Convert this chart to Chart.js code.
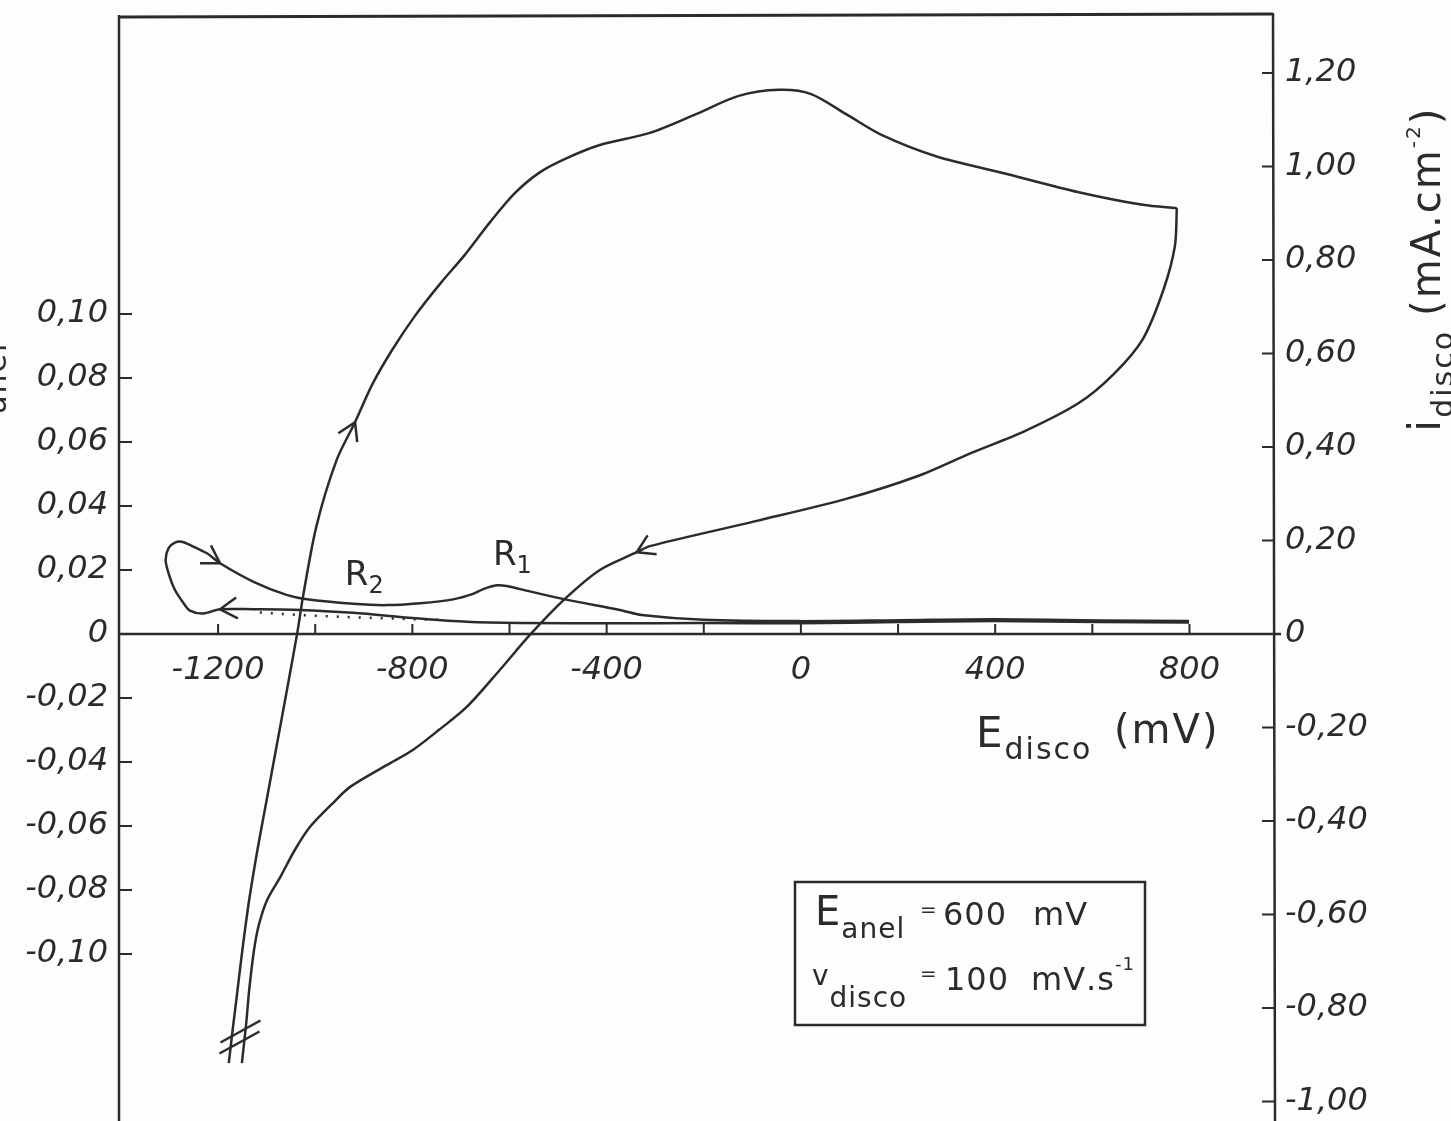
<!DOCTYPE html>
<html>
<head>
<meta charset="utf-8">
<script src="https://cdn.jsdelivr.net/npm/chart.js@4.4.1/dist/chart.umd.min.js"></script>
<style>
  html, body { margin: 0; padding: 0; background: #fdfdfd; }
  canvas { display: block; }
</style>
</head>
<body>
<canvas id="cv" width="1451" height="1121"></canvas>
<script>
// disk current, forward (anodic) sweep: E (mV), i (mA.cm-2)
var diskFwdE = [-1178, -1170, -1160, -1150, -1136, -1119, -1100, -1081, -1062, -1037, -1025, -997, -956, -918, -883, -842, -795, -743, -692, -640, -589, -537, -482, -414, -311, -216, -128, -45, 21, 93, 167, 278, 424, 572, 704, 774];
var diskFwdI = [-0.918, -0.847, -0.762, -0.676, -0.569, -0.462, -0.355, -0.248, -0.141, 0.002, 0.081, 0.233, 0.372, 0.453, 0.533, 0.607, 0.680, 0.749, 0.811, 0.881, 0.943, 0.988, 1.018, 1.046, 1.072, 1.112, 1.151, 1.164, 1.155, 1.112, 1.067, 1.022, 0.984, 0.945, 0.918, 0.911];

// disk current, reverse (cathodic) sweep
var diskRevE = [774, 770, 747, 704, 644, 572, 461, 350, 241, 93, -91, -311, -338, -414, -486, -558, -620, -688, -745, -799, -852, -928, -963, -1011, -1042, -1072, -1099, -1116, -1126, -1136, -1142, -1151];
var diskRevI = [0.911, 0.830, 0.738, 0.631, 0.556, 0.494, 0.434, 0.387, 0.338, 0.289, 0.242, 0.188, 0.175, 0.137, 0.075, -0.002, -0.077, -0.156, -0.205, -0.248, -0.280, -0.327, -0.361, -0.413, -0.462, -0.520, -0.569, -0.622, -0.676, -0.762, -0.832, -0.918];

// ring current (mA.cm-2): cathodic branch leftwards, loop, anodic branch rightwards
var ringE = [799, 615, 397, 204, -2, -208, -373, -578, -688, -799, -922, -1031, -1128, -1196, -1231, -1258, -1271, -1289, -1302, -1308, -1302, -1289, -1275, -1258, -1223, -1196, -1127, -1059, -1017, -922, -853, -784, -716, -675, -654, -626, -606, -578, -486, -373, -328, -200, -4, 204, 397, 615, 799];
var ringI = [0.0036, 0.0037, 0.0040, 0.0037, 0.0033, 0.0034, 0.0033, 0.0034, 0.0038, 0.0050, 0.0066, 0.0075, 0.0077, 0.0077, 0.0064, 0.0073, 0.0096, 0.0138, 0.0190, 0.0231, 0.0268, 0.0285, 0.0288, 0.0278, 0.0252, 0.0221, 0.0163, 0.0122, 0.0108, 0.0094, 0.0090, 0.0096, 0.0108, 0.0125, 0.0140, 0.0152, 0.0150, 0.0140, 0.0108, 0.0075, 0.0059, 0.0044, 0.0040, 0.0043, 0.0046, 0.0042, 0.0040];

// dotted baseline under the ring cathodic branch
var dotE = [-1114, -1031, -922, -799, -743];
var dotI = [0.0067, 0.0059, 0.0052, 0.0046, 0.0044];

// ticks
var xLabelTicks = [-1200, -800, -400, 0, 400, 800];
var xMinorTicks = [-1200, -1000, -800, -600, -400, -200, 0, 200, 400, 600, 800];
var ringTicks = [-0.10, -0.08, -0.06, -0.04, -0.02, 0, 0.02, 0.04, 0.06, 0.08, 0.10];
var diskTicks = [-1.00, -0.80, -0.60, -0.40, -0.20, 0, 0.20, 0.40, 0.60, 0.80, 1.00, 1.20];

// [dataset, point] where a direction arrow sits
var arrowAt = [[0, 13], [1, 12], [2, 13], [2, 25]];

var ink = '#2b2b2b';
var fam = '"DejaVu Sans", sans-serif';

function pts(xs, ys) {
  return xs.map(function (x, i) { return { x: x, y: ys[i] }; });
}

function commaNum(v) {
  if (Math.abs(v) < 1e-9) return '0';
  return v.toFixed(2).replace('.', ',');
}

// draws a row of text pieces: [text, size, dy]
function textRun(ctx, x, y, parts) {
  parts.forEach(function (p) {
    ctx.font = p[1] + 'px ' + fam;
    ctx.fillText(p[0], x, y + (p[2] || 0));
    x += ctx.measureText(p[0]).width;
  });
  return x;
}

var framePlugin = {
  id: 'frame',
  beforeDatasetsDraw: function (chart) {
    var ctx = chart.ctx, a = chart.chartArea, s = chart.scales;
    var y0 = s.yD.getPixelForValue(0);
    ctx.save();
    ctx.strokeStyle = ink;
    ctx.lineWidth = 3;
    ctx.beginPath();
    ctx.moveTo(a.left, a.top + 2);
    ctx.lineTo(a.right, a.top - 1);
    ctx.stroke();
    ctx.lineWidth = 2.5;
    ctx.beginPath();
    ctx.moveTo(a.left, a.top);
    ctx.lineTo(a.left, a.bottom);
    ctx.moveTo(a.right, a.top - 2);
    ctx.lineTo(a.right + 2, a.bottom);
    // zero line doubles as the potential axis
    ctx.moveTo(a.left, y0);
    ctx.lineTo(a.right + 8, y0);
    ctx.stroke();
    ctx.lineWidth = 2;
    ctx.beginPath();
    xMinorTicks.forEach(function (v) {
      var px = s.x.getPixelForValue(v);
      ctx.moveTo(px, y0);
      ctx.lineTo(px, y0 - 10);
    });
    ringTicks.forEach(function (v) {
      if (v === 0) return;
      var py = s.yA.getPixelForValue(v);
      ctx.moveTo(a.left, py);
      ctx.lineTo(a.left + 13, py);
    });
    diskTicks.forEach(function (v) {
      if (v === 0) return;
      var py = s.yD.getPixelForValue(v);
      ctx.moveTo(a.right - 11, py);
      ctx.lineTo(a.right + 1, py);
    });
    ctx.stroke();
    ctx.restore();
  }
};

var arrowPlugin = {
  id: 'arrows',
  afterDatasetsDraw: function (chart) {
    var ctx = chart.ctx;
    ctx.save();
    ctx.strokeStyle = ink;
    ctx.lineWidth = 2.5;
    arrowAt.forEach(function (ai) {
      var d = chart.getDatasetMeta(ai[0]).data;
      var p = d[ai[1]], pa = d[ai[1] - 1], pb = d[ai[1] + 1];
      var ang = Math.atan2(pb.y - pa.y, pb.x - pa.x);
      var L = 20, sp = 0.55;
      ctx.beginPath();
      ctx.moveTo(p.x - L * Math.cos(ang - sp), p.y - L * Math.sin(ang - sp));
      ctx.lineTo(p.x, p.y);
      ctx.lineTo(p.x - L * Math.cos(ang + sp), p.y - L * Math.sin(ang + sp));
      ctx.stroke();
    });

    // break marks across the two cathodic tails
    var f = chart.getDatasetMeta(0).data[1];
    var r = chart.getDatasetMeta(1).data;
    r = r[r.length - 2];
    var mx = (f.x + r.x) / 2, my = (f.y + r.y) / 2;
    var dx = 20, dy = -11;
    ctx.beginPath();
    [[1, 5], [0, 16]].forEach(function (o) {
      ctx.moveTo(mx + o[0] - dx, my + o[1] - dy);
      ctx.lineTo(mx + o[0] + dx, my + o[1] + dy);
    });
    ctx.stroke();
    ctx.restore();
  }
};

var labelPlugin = {
  id: 'labels',
  afterDraw: function (chart) {
    var ctx = chart.ctx, a = chart.chartArea, s = chart.scales;
    var y0 = s.yD.getPixelForValue(0);
    ctx.save();
    ctx.fillStyle = ink;
    ctx.textBaseline = 'alphabetic';
    ctx.textAlign = 'left';

    // peak names
    textRun(ctx, s.x.getPixelForValue(-939), s.yA.getPixelForValue(0.0153), [['R', 34], ['2', 24, 8]]);
    textRun(ctx, s.x.getPixelForValue(-634), s.yA.getPixelForValue(0.0216), [['R', 34], ['1', 24, 8]]);

    // potential axis title
    ctx.letterSpacing = '2px';
    textRun(ctx, a.left + 857, y0 + 113, [['E', 42], ['disco', 30, 12]]);
    ctx.font = '40px ' + fam;
    ctx.fillText('(mV)', a.left + 995, y0 + 109);

    // disk current title, rotated
    ctx.save();
    ctx.translate(a.right + 167, a.top + 417);
    ctx.rotate(-Math.PI / 2);
    var x = textRun(ctx, 0, 0, [['i', 44], ['disco', 30, 13]]);
    textRun(ctx, x + 14, 0, [['(', 40], ['mA', 40], ['.', 40], ['cm', 40], ['-2', 20, -20], [')', 40]]);
    ctx.restore();

    // ring current title, mostly beyond the left edge
    ctx.save();
    ctx.translate(-6, 428);
    ctx.rotate(-Math.PI / 2);
    textRun(ctx, 0, 0, [['i', 44], ['anel', 30, 12]]);
    ctx.restore();
    ctx.letterSpacing = '0px';

    // conditions box
    var bx = a.left + 676, by = a.top + 867;
    ctx.strokeStyle = ink;
    ctx.lineWidth = 2.5;
    ctx.strokeRect(bx, by, 350, 143);
    ctx.letterSpacing = '1px';
    textRun(ctx, bx + 20, by + 43, [['E', 40], ['anel', 28, 13]]);
    textRun(ctx, bx + 125, by + 34, [['=', 20]]);
    textRun(ctx, bx + 148, by + 43, [['600', 32]]);
    textRun(ctx, bx + 238, by + 43, [['mV', 32]]);
    textRun(ctx, bx + 17, by + 103, [['v', 28], ['disco', 28, 22]]);
    textRun(ctx, bx + 125, by + 98, [['=', 20]]);
    textRun(ctx, bx + 150, by + 108, [['100', 32]]);
    textRun(ctx, bx + 236, by + 108, [['mV', 32], ['.', 32], ['s', 32], ['-1', 18, -20]]);
    ctx.restore();
  }
};

var tickFont = { family: fam, size: 32, style: 'italic' };

function curve(xs, ys, axis, extra) {
  var ds = { data: pts(xs, ys), yAxisID: axis, showLine: true, borderColor: ink, backgroundColor: ink,
    borderWidth: 2.5, pointRadius: 0, tension: 0.3, fill: false };
  return Object.assign(ds, extra || {});
}

var ctx = document.getElementById('cv').getContext('2d');
var chart = new Chart(ctx, {
  type: 'scatter',
  data: {
    datasets: [
      curve(diskFwdE, diskFwdI, 'yD'),
      curve(diskRevE, diskRevI, 'yD'),
      curve(ringE, ringI, 'yA'),
      curve(dotE, dotI, 'yA', { borderDash: [2, 9], tension: 0 })
    ]
  },
  options: {
    responsive: false,
    animation: false,
    devicePixelRatio: 1,
    layout: { padding: { top: 15, left: 0, right: 0, bottom: 0 } },
    plugins: { legend: { display: false }, tooltip: { enabled: false }, colors: { enabled: false } },
    scales: {
      x: {
        type: 'linear',
        position: { yD: 0 },
        min: -1404, max: 972,
        afterBuildTicks: function (sc) { sc.ticks = xLabelTicks.map(function (v) { return { value: v }; }); },
        afterFit: function (sc) { sc.paddingLeft = 0; sc.paddingRight = 0; },
        ticks: { font: tickFont, color: ink, padding: 17, maxRotation: 0, autoSkip: false,
          callback: function (v) { return String(v); } },
        grid: { display: false, drawTicks: false },
        border: { display: false }
      },
      yA: {
        type: 'linear',
        position: 'left',
        min: -0.1522, max: 0.1934,
        afterBuildTicks: function (sc) { sc.ticks = ringTicks.map(function (v) { return { value: v }; }); },
        afterFit: function (sc) { sc.width = 119; sc.paddingTop = 0; sc.paddingBottom = 0; },
        ticks: { font: tickFont, color: ink, padding: 11, autoSkip: false, callback: commaNum },
        grid: { display: false, drawTicks: false },
        border: { display: false }
      },
      yD: {
        type: 'linear',
        position: 'right',
        min: -1.0417, max: 1.3241,
        afterBuildTicks: function (sc) { sc.ticks = diskTicks.map(function (v) { return { value: v }; }); },
        afterFit: function (sc) { sc.width = 178; sc.paddingTop = 0; sc.paddingBottom = 0; },
        ticks: { font: tickFont, color: ink, padding: 12, autoSkip: false, callback: commaNum },
        grid: { display: false, drawTicks: false },
        border: { display: false }
      }
    }
  },
  plugins: [framePlugin, arrowPlugin, labelPlugin]
});
</script>
</body>
</html>
